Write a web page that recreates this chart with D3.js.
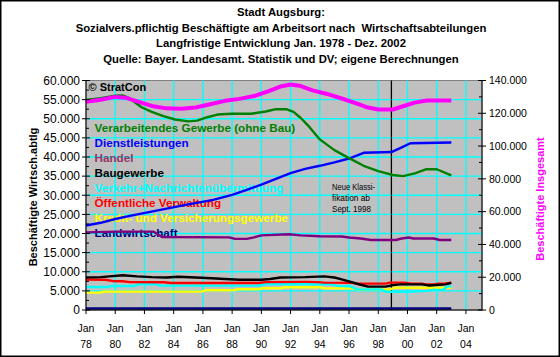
<!DOCTYPE html>
<html><head><meta charset="utf-8">
<script src="https://cdn.jsdelivr.net/npm/d3@7"></script>
<style>
body{margin:0;background:#fff}
svg{display:block}
text{font-family:"Liberation Sans",Arial,Helvetica,sans-serif}
</style>
</head><body>
<svg id="chart" width="560" height="357"></svg>
<script>
// ---------------- DATA ----------------
const titleLines = [
  "Stadt Augsburg:",
  "Sozialvers.pflichtig Beschäftigte am Arbeitsort nach  Wirtschaftsabteilungen",
  "Langfristige Entwicklung Jan. 1978 - Dez. 2002",
  "Quelle: Bayer. Landesamt. Statistik und DV; eigene Berechnungen"
];
const leftAxisTitle = "Beschäftigte Wirtsch.abtlg";
const rightAxisTitle = "Beschäftigte Insgesamt";
const copyrightText = "© StratCon";
const noteLines = ["Neue Klassi-", "fikation ab", "Sept. 1998"];
const classificationBreak = 1998.9;

const xTickYears = [1978,1980,1982,1984,1986,1988,1990,1992,1994,1996,1998,2000,2002,2004];
const xTickLabels = ["78","80","82","84","86","88","90","92","94","96","98","00","02","04"];
const leftTicks = [0,5000,10000,15000,20000,25000,30000,35000,40000,45000,50000,55000,60000];
const rightTicks = [0,20000,40000,60000,80000,100000,120000,140000];

const seriesNames = [
  "Verarbeitendes Gewerbe (ohne Bau)","Dienstleistungen","Handel","Baugewerbe",
  "Verkehr+Nachrichtenübermittlung","Öffentliche Verwaltung",
  "Kredit- und Versicherungsgewerbe","Landwirtschaft"
];
const lineColors  = ["#008000","#0000FF","#800080","#000000","#00FFFF","#FF0000","#FFFF00","#000080"];
const labelColors = ["#008000","#0000FF","#993366","#000000","#00FFFF","#FF0000","#FFFF00","#000080"];

// [year, value]
const verarbeitend = [[1978.0,54900],[1979.0,55400],[1980.0,56000],[1980.5,56100],[1981.0,55300],[1981.8,53000],[1982.5,51800],[1983.3,50700],[1984.1,49800],[1985.0,49300],[1985.6,49500],[1986.3,50400],[1987.0,51100],[1988.0,51300],[1989.3,51300],[1990.3,51900],[1991.0,52500],[1991.7,52500],[1992.2,51800],[1992.7,50200],[1993.3,47800],[1994.0,44600],[1995.0,41800],[1996.0,39700],[1997.0,37700],[1998.0,36300],[1999.0,35300],[1999.7,35000],[2000.5,35700],[2001.3,36800],[2002.0,36800],[2003.0,35200]];
const dienst = [[1978.0,22100],[1979.0,22800],[1980.0,23800],[1981.0,24600],[1983.0,26100],[1985.0,27600],[1986.7,28800],[1988.0,30100],[1989.0,31400],[1990.0,32800],[1991.0,34300],[1992.0,35800],[1993.0,36900],[1994.0,37700],[1995.0,38600],[1996.0,39600],[1997.0,41100],[1998.9,41300],[1999.5,42300],[2000.2,43600],[2003.0,43800]];
const handel = [[1978.0,20300],[1980.0,20500],[1982.6,20500],[1983.2,19100],[1987.8,19000],[1988.2,18600],[1989.0,18600],[1989.5,19000],[1990.0,19500],[1991.9,19800],[1992.7,19500],[1994.0,19300],[1995.5,19200],[1996.0,18950],[1996.8,18700],[1997.5,18300],[1999.2,18300],[1999.6,18700],[2000.1,18950],[2000.4,18700],[2001.8,18700],[2002.2,18300],[2003.0,18300]];
const bau = [[1978.0,8500],[1979.0,8600],[1979.6,8800],[1980.5,9100],[1981.5,8800],[1982.5,8600],[1983.5,8500],[1984.3,8700],[1985.5,8500],[1986.6,8300],[1987.5,8100],[1988.5,7900],[1990.0,7900],[1990.6,8100],[1991.3,8500],[1993.0,8600],[1994.3,8800],[1995.0,8500],[1995.5,8000],[1996.0,7500],[1996.6,6800],[1997.3,6100],[1998.5,6100],[1999.0,6500],[1999.5,6700],[2001.0,6700],[2001.5,6400],[2002.2,6600],[2002.6,6700],[2003.0,7100]];
const verkehr = [[1978.0,6030],[1979.5,6030],[1979.8,6290],[1981.3,6290],[1981.6,6730],[1982.8,6730],[1983.1,6380],[1989.8,6380],[1990.2,6730],[1994.8,6730],[1995.2,6300],[1996.1,6200],[1996.5,5400],[1998.2,5400],[1998.5,4750],[2000.2,4750],[2000.6,4900],[2001.4,5000],[2001.7,5250],[2002.4,5250],[2002.7,6100],[2003.0,6200]];
const verwaltung = [[1978.0,7950],[1979.3,7900],[1979.8,7600],[1980.5,7500],[1981.0,7300],[1983.3,7250],[1983.8,7070],[1989.8,7070],[1990.3,7300],[1993.0,7350],[1993.8,7300],[1994.3,7150],[1996.2,7100],[1996.6,6900],[1998.5,6900],[1998.8,7150],[1999.8,7150],[2000.2,6900],[2001.0,6900],[2001.3,6650],[2001.8,6650],[2002.1,6900],[2002.6,6950],[2003.0,7150]];
const kredit = [[1978.0,4530],[1979.0,4530],[1979.2,4800],[1985.9,4800],[1986.2,5150],[1988.1,5150],[1988.4,5420],[1989.8,5420],[1990.1,5680],[1991.3,5680],[1991.6,5940],[1994.0,5940],[1994.3,5700],[1996.2,5650],[1996.5,5400],[1998.8,5400],[1999.1,5800],[2003.0,5800]];
const landwirtschaft = [[1978.0,400],[2003.0,400]];
const insgesamt = [[1978.0,127000],[1979.0,128300],[1980.0,130000],[1980.7,129500],[1981.5,127300],[1982.5,124500],[1983.5,123000],[1984.5,122800],[1985.5,123500],[1986.5,125500],[1987.5,127600],[1988.5,128800],[1989.5,130500],[1990.5,133500],[1991.3,136300],[1992.0,137600],[1992.7,136600],[1993.5,134000],[1994.5,131800],[1995.5,129000],[1996.5,126000],[1997.3,123500],[1998.0,122300],[1999.0,122300],[1999.7,124300],[2000.5,126500],[2001.3,127800],[2003.0,127800]];

const seriesData = [verarbeitend, dienst, handel, bau, verkehr, verwaltung, kredit, landwirtschaft];

// ---------------- LAYOUT ----------------
const W = 560, H = 357;
const L = 86, R = 482, T = 80.5, B = 310;

const svg = d3.select("#chart");
const de = d3.formatLocale({decimal:",", thousands:".", grouping:[3], currency:["","€"]});
const fmt = de.format(",d");

const x = d3.scaleLinear().domain([1978, 2005.1]).range([L, R]);
const yL = d3.scaleLinear().domain([0, 60000]).range([B, T]);
const yR = d3.scaleLinear().domain([0, 140000]).range([B, T]);

// outer frame
svg.append("rect").attr("x",0.75).attr("y",0.75).attr("width",W-1.5).attr("height",H-1.5)
  .attr("fill","#fff").attr("stroke","#000").attr("stroke-width",1.5);

// title
svg.append("g").selectAll("text").data(titleLines).join("text")
  .attr("x", 281).attr("y",(d,i)=>16 + i*15.6)
  .attr("text-anchor","middle").attr("font-weight","bold").attr("font-size","11.3px")
  .style("white-space","pre")
  .text(d=>d);

// plot background
svg.append("rect").attr("x",L).attr("y",T).attr("width",R-L).attr("height",B-T)
  .attr("fill","#C0C0C0").attr("stroke","#808080").attr("stroke-width",1);

// gridlines
const grid = svg.append("g").attr("stroke","#00FFFF").attr("stroke-width",1.3);
grid.selectAll("line.h").data(leftTicks.filter(v=>v>0 && v<60000)).join("line")
  .attr("x1",L).attr("x2",R).attr("y1",d=>yL(d)).attr("y2",d=>yL(d));
grid.selectAll("line.v").data(xTickYears.filter(v=>v>1978)).join("line")
  .attr("y1",T).attr("y2",B).attr("x1",d=>x(d)).attr("x2",d=>x(d));

// classification break line
svg.append("line").attr("x1",x(classificationBreak)).attr("x2",x(classificationBreak))
  .attr("y1",T).attr("y2",B).attr("stroke","#000").attr("stroke-width",1.3);

// legend labels inside plot
svg.append("g").selectAll("text").data(seriesNames).join("text")
  .attr("x",94.5).attr("y",(d,i)=>127.5 + i*15.05).attr("dy","0.36em")
  .attr("font-weight","bold").attr("font-size","11.7px")
  .attr("fill",(d,i)=>labelColors[i]).text(d=>d);

svg.append("text").attr("x",88.5).attr("y",87).attr("dy","0.36em")
  .attr("font-weight","bold").attr("font-size","11px").text(copyrightText);

// note
svg.append("g").selectAll("text").data(noteLines).join("text")
  .attr("x",332).attr("y",(d,i)=>187 + i*11).attr("dy","0.36em")
  .attr("font-size","9px").attr("textLength",(d,i)=>[43,38,39][i]).attr("lengthAdjust","spacingAndGlyphs")
  .text(d=>d);

// series lines
const lineL = d3.line().x(d=>x(d[0])).y(d=>yL(d[1]));
const lineR = d3.line().x(d=>x(d[0])).y(d=>yR(d[1]));
const drawOrder = [7,6,4,5,3,2,1,0];
const lg = svg.append("g").attr("fill","none").attr("stroke-linejoin","round");
drawOrder.forEach(i=>{
  lg.append("path").attr("d",lineL(seriesData[i])).attr("stroke",lineColors[i])
    .attr("stroke-width", i===7 ? 2.5 : 2.4);
});
lg.append("path").attr("d",lineR(insgesamt)).attr("stroke","#FF00FF").attr("stroke-width",4);

// axes
const axL = svg.append("g").attr("stroke","#000");
axL.append("line").attr("x1",L).attr("x2",L).attr("y1",T).attr("y2",B+0.5);
axL.selectAll("line.maj").data(leftTicks).join("line")
  .attr("x1",L-4).attr("x2",L+4).attr("y1",d=>yL(d)).attr("y2",d=>yL(d));
axL.selectAll("line.min").data(d3.range(2500,60000,5000)).join("line")
  .attr("x1",L).attr("x2",L+3).attr("y1",d=>yL(d)).attr("y2",d=>yL(d));
svg.append("g").selectAll("text").data(leftTicks).join("text")
  .attr("x",L-6).attr("y",d=>yL(d)).attr("dy","0.36em").attr("text-anchor","end")
  .attr("font-size","12px").text(d=>fmt(d));

const axR = svg.append("g").attr("stroke","#000");
axR.append("line").attr("x1",R).attr("x2",R).attr("y1",T).attr("y2",B+0.5);
axR.selectAll("line.maj").data(rightTicks).join("line")
  .attr("x1",R-4).attr("x2",R+4).attr("y1",d=>yR(d)).attr("y2",d=>yR(d));
axR.selectAll("line.min").data(d3.range(10000,140000,20000)).join("line")
  .attr("x1",R-3).attr("x2",R).attr("y1",d=>yR(d)).attr("y2",d=>yR(d));
svg.append("g").selectAll("text").data(rightTicks).join("text")
  .attr("x",R+7).attr("y",d=>yR(d)).attr("dy","0.36em")
  .attr("font-size","10.5px").text(d=>fmt(d));

const axX = svg.append("g").attr("stroke","#000");
axX.append("line").attr("x1",L).attr("x2",R).attr("y1",B).attr("y2",B);
axX.selectAll("line.t").data(xTickYears).join("line")
  .attr("x1",d=>x(d)).attr("x2",d=>x(d)).attr("y1",B).attr("y2",B+4);
const xl = svg.append("g").attr("font-size","10.5px").attr("text-anchor","middle");
xl.selectAll("text.m").data(xTickYears).join("text")
  .attr("x",d=>x(d)).attr("y",328).attr("dy","0.36em").text("Jan");
xl.selectAll("text.yy").data(xTickLabels).join("text")
  .attr("x",(d,i)=>x(xTickYears[i])).attr("y",344.5).attr("dy","0.36em").text(d=>d);

// axis titles
svg.append("text").attr("transform","translate(33,197) rotate(-90)")
  .attr("text-anchor","middle").attr("dy","0.36em").attr("font-weight","bold").attr("font-size","11px")
  .text(leftAxisTitle);
svg.append("text").attr("transform","translate(540,199) rotate(-90)")
  .attr("text-anchor","middle").attr("dy","0.36em").attr("font-weight","bold").attr("font-size","11px")
  .attr("fill","#FF00FF").text(rightAxisTitle);
</script>
</body></html>
